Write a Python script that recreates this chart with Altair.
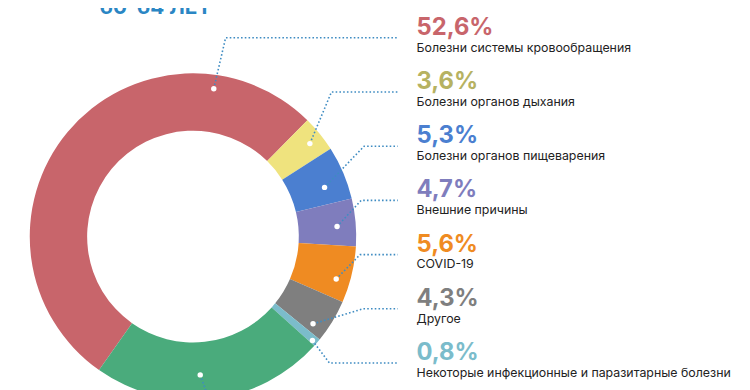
import math
import altair as alt
import pandas as pd

# ---- data ----
categories = [
    "Болезни системы кровообращения",
    "Болезни органов дыхания",
    "Болезни органов пищеварения",
    "Внешние причины",
    "COVID-19",
    "Другое",
    "Некоторые инфекционные и паразитарные болезни",
    "Новообразования",
]
shares = [52.6, 3.6, 5.3, 4.7, 5.6, 4.3, 0.8, 23.1]
pct_labels = ["52,6%", "3,6%", "5,3%", "4,7%", "5,6%", "4,3%", "0,8%", "23,1%"]
stack_order = [7, 0, 1, 2, 3, 4, 5, 6]  # clockwise order starting after the red arc
title_text = "60-64 ЛЕТ"

# ---- styles / layout ----
seg_colors = ["#c8656b", "#efe37e", "#4b7fd0", "#7f7dbd", "#ef8b22", "#7f7f7f", "#7bbccb", "#4aab7c"]
pct_colors = ["#c8656b", "#b6b262", "#4b7fd0", "#7f7dbd", "#ef8b22", "#7f7f7f", "#7bbccb", "#4aab7c"]
W, H = 742, 382
OFF = 8  # page margin
CX, CY = 195 - OFF, 237 - OFF
R_OUT, R_IN = 165, 107
START = math.radians(44.5)
anchor_deg = [8, 51.5, 69.5, 86, 106.5, 126, 131, 177]
anchor_r = [151, 151, 142, 146, 151, 150, 160, 140]
row_base0, row_step = 33 - OFF, 54.8
corner_x = [228, 335, 368, 365, 364, 367, 333]
line_end_x = 402 - OFF
text_x = 421 - OFF
leader_color = "#3f8cc2"

n_lab = 7
arc_df = pd.DataFrame({"cat": categories, "value": shares, "ord": stack_order})

dots, lines = [], []
for i in range(len(categories)):
    a = math.radians(anchor_deg[i])
    dx = CX + anchor_r[i] * math.sin(a)
    dy = CY - anchor_r[i] * math.cos(a)
    dots.append({"cat": categories[i], "x": dx, "y": dy})
    if i < n_lab:
        ly = row_base0 + i * row_step + 3
        pts = [(dx, dy), (corner_x[i] - OFF, ly), (line_end_x, ly)]
    else:
        pts = [(dx, dy), (dx + 9, dy + 25)]
    for k, (px, py) in enumerate(pts):
        lines.append({"cat": categories[i], "seq": k, "x": px, "y": py})
dots_df = pd.DataFrame(dots)
lines_df = pd.DataFrame(lines)

txt_df = pd.DataFrame({
    "cat": categories[:n_lab],
    "pct": pct_labels[:n_lab],
    "y": [row_base0 + i * row_step for i in range(n_lab)],
    "y2": [row_base0 + i * row_step + 17 for i in range(n_lab)],
    "x": [text_x] * n_lab,
})

xs = alt.Scale(domain=[0, W], range=[0, W], nice=False, zero=False)
ys = alt.Scale(domain=[0, H], range=[0, H], nice=False, zero=False)
X = lambda f: alt.X(f, scale=xs, axis=None)
Y = lambda f: alt.Y(f, scale=ys, axis=None)

arc = alt.Chart(arc_df).mark_arc(outerRadius=R_OUT, innerRadius=R_IN).encode(
    theta=alt.Theta("value:Q", stack=True, scale=alt.Scale(range=[START, START + 2 * math.pi])),
    color=alt.Color("cat:N", scale=alt.Scale(domain=categories, range=seg_colors), legend=None),
    order=alt.Order("ord:Q"),
    x=alt.value(CX),
    y=alt.value(CY),
)

leaders = alt.Chart(lines_df).mark_line(
    color=leader_color, strokeWidth=1.6, strokeDash=[1.6, 2.2]
).encode(x=X("x:Q"), y=Y("y:Q"), detail="cat:N", order="seq:Q")

dots_l = alt.Chart(dots_df).mark_circle(color="white", opacity=1, size=30).encode(
    x=X("x:Q"), y=Y("y:Q")
)

pct = alt.Chart(txt_df).mark_text(
    align="left", baseline="alphabetic", font="Inter", fontSize=24, fontWeight="bold"
).encode(
    x=X("x:Q"), y=Y("y:Q"), text="pct:N",
    color=alt.Color("cat:N", scale=alt.Scale(domain=categories, range=pct_colors), legend=None),
)

lab = alt.Chart(txt_df).mark_text(
    align="left", baseline="alphabetic", font="Inter", fontSize=12.5, color="#222222"
).encode(x=X("x:Q"), y=Y("y2:Q"), text="cat:N")

title = alt.Chart(pd.DataFrame({"t": [title_text], "x": [157 - OFF], "y": [12 - OFF]})).mark_text(
    align="center", baseline="alphabetic", font="Inter", fontSize=21, fontWeight="bold", color="#2a86c4"
).encode(x=X("x:Q"), y=Y("y:Q"), text="t:N")

chart = alt.layer(arc, leaders, dots_l, pct, lab, title).properties(
    width=W, height=H, padding=0, autosize=alt.AutoSizeParams(type="none")
).configure_view(stroke=None).resolve_scale(color="independent")

chart.save("out.html", embed_options={"renderer": "svg", "actions": False})
